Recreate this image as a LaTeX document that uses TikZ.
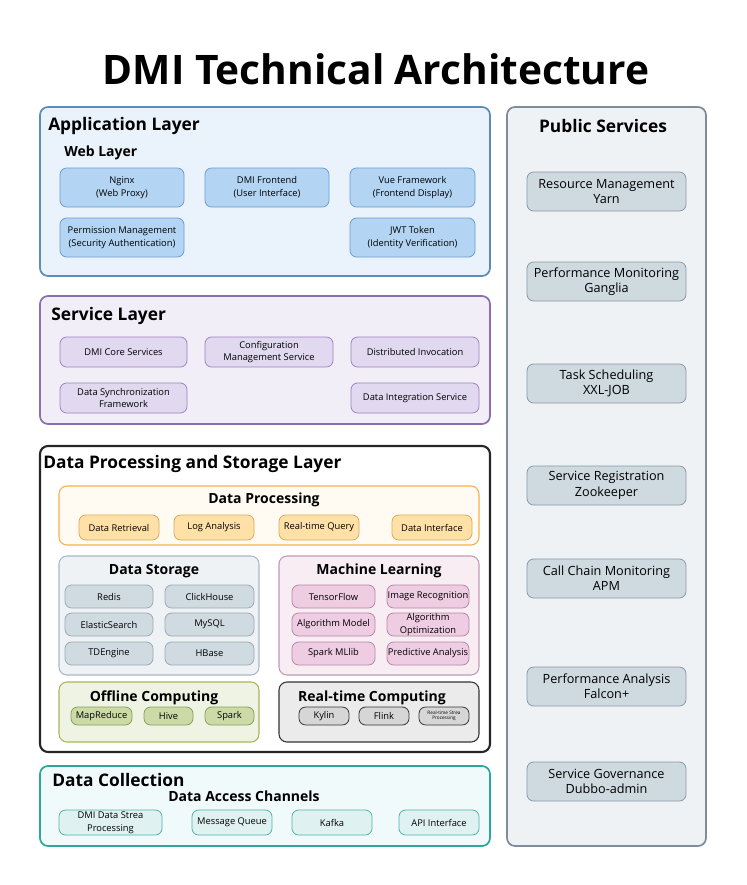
\documentclass[tikz,border=0pt]{standalone}
\usepackage{fontspec}
\setmainfont{Open Sans}
\begin{document}
\begin{tikzpicture}[x=0.75pt,y=-0.75pt,
 lay/.style={draw,rounded corners=6pt,line width=1.3pt},
 bx/.style={draw,rounded corners=5pt,line width=0.6pt,align=center,inner sep=0pt,font=\fontsize{7}{9.5}\selectfont},
 ttl/.style={font=\bfseries\fontsize{13}{15}\selectfont,anchor=west,inner sep=0pt},
 sub/.style={font=\bfseries\fontsize{10.5}{12}\selectfont,inner sep=0pt},
 pub/.style={bx,font=\fontsize{9.5}{11.5}\selectfont,fill=pubf,draw=pubd}]
\definecolor{appf}{HTML}{EAF2FB}\definecolor{appd}{HTML}{5B8DB8}
\definecolor{webf}{HTML}{B3D5F3}\definecolor{webd}{HTML}{6C9BD2}
\definecolor{svf}{HTML}{F1EEF8}\definecolor{svd}{HTML}{8D6FB0}
\definecolor{sbf}{HTML}{E0D9F0}\definecolor{sbd}{HTML}{9D82C0}
\definecolor{dpf}{HTML}{FFFBF3}\definecolor{dpd}{HTML}{F5B04A}
\definecolor{dbf}{HTML}{FFE1A8}\definecolor{dbd}{HTML}{D9A95A}
\definecolor{dsf}{HTML}{EEF2F5}\definecolor{dsd}{HTML}{A8B8C8}
\definecolor{sbx}{HTML}{CFDAE1}\definecolor{sbxd}{HTML}{9AAAB5}
\definecolor{mlf}{HTML}{F8EDF3}\definecolor{mld}{HTML}{C29AB3}
\definecolor{mbf}{HTML}{EECCE2}\definecolor{mbd}{HTML}{B986A8}
\definecolor{off}{HTML}{EEF3E4}\definecolor{ofd}{HTML}{A7B859}
\definecolor{obf}{HTML}{CCDAA8}\definecolor{obd}{HTML}{8B9E55}
\definecolor{rtf}{HTML}{EBEBEB}\definecolor{rbf}{HTML}{D6D6D6}
\definecolor{dcf}{HTML}{F1FAFA}\definecolor{dcd}{HTML}{2BA89A}
\definecolor{cbf}{HTML}{DFF2F1}\definecolor{cbd}{HTML}{4BB5A8}
\definecolor{pubf}{HTML}{CED9E0}\definecolor{pubd}{HTML}{8A99A6}
\definecolor{pbg}{HTML}{EEF2F5}\definecolor{pbd}{HTML}{7F8C99}
\newcommand\B[7]{\node[bx,#2,minimum width={(#5-#3)*0.75pt},minimum height={(#6-#4)*0.75pt}] (#1) at ({(#3+#5)/2},{(#4+#6)/2}) {#7};}
\path[use as bounding box] (0,0) rectangle (746,885);
\node[font=\bfseries\fontsize{30.5}{34}\selectfont] (title) at (376,69) {DMI Technical Architecture};
% Application
\B{app}{lay,fill=appf,draw=appd}{40}{107}{490}{276}{}
\node[ttl] (appt) at (48,126) {Application Layer};
\node[sub,anchor=west] (webt) at (64,153) {Web Layer};
\B{ngx}{fill=webf,draw=webd}{60}{168}{184}{207}{Nginx\\(Web Proxy)}
\B{dfe}{fill=webf,draw=webd}{205}{168}{329}{207}{DMI Frontend\\(User Interface)}
\B{vue}{fill=webf,draw=webd}{350}{168}{475}{207}{Vue Framework\\(Frontend Display)}
\B{perm}{fill=webf,draw=webd}{60}{218}{184}{257}{Permission Management\\(Security Authentication)}
\B{jwt}{fill=webf,draw=webd}{350}{218}{475}{257}{JWT Token\\(Identity Verification)}
% Service
\B{svc}{lay,fill=svf,draw=svd}{40}{296}{490}{424}{}
\node[ttl] (svct) at (51,316) {Service Layer};
\B{core}{fill=sbf,draw=sbd}{60}{337}{187}{367}{DMI Core Services}
\B{conf}{fill=sbf,draw=sbd}{205}{337}{333}{367}{Configuration\\Management Service}
\B{dist}{fill=sbf,draw=sbd}{351}{337}{479}{367}{Distributed Invocation}
\B{sync}{fill=sbf,draw=sbd}{60}{383}{187}{413}{Data Synchronization\\Framework}
\B{integ}{fill=sbf,draw=sbd}{351}{383}{479}{413}{Data Integration Service}
% DPS
\B{dps}{lay,fill=white,draw=black!85,line width=1.6pt}{40}{446}{490}{752}{}
\node[ttl] (dpst) at (43,464) {Data Processing and Storage Layer};
\B{dp}{lay,line width=0.8pt,fill=dpf,draw=dpd}{59}{486}{479}{545}{}
\node[sub] (dpt) at (264,500) {Data Processing};
\B{dr}{fill=dbf,draw=dbd}{79}{515}{159}{540}{Data Retrieval}
\B{la}{fill=dbf,draw=dbd}{174}{515}{254}{540}{Log Analysis}
\B{rq}{fill=dbf,draw=dbd}{279}{515}{359}{540}{Real-time Query}
\B{di}{fill=dbf,draw=dbd}{392}{515}{472}{540}{Data Interface}
\B{ds}{lay,line width=0.8pt,fill=dsf,draw=dsd}{59}{556}{259}{675}{}
\node[sub] (dst) at (154,571) {Data Storage};
\B{redis}{fill=sbx,draw=sbxd}{65}{585}{153}{608}{Redis}
\B{ch}{fill=sbx,draw=sbxd}{165}{585}{254}{608}{ClickHouse}
\B{es}{fill=sbx,draw=sbxd}{65}{613}{153}{636}{ElasticSearch}
\B{my}{fill=sbx,draw=sbxd}{165}{613}{254}{636}{MySQL}
\B{td}{fill=sbx,draw=sbxd}{65}{642}{153}{665}{TDEngine}
\B{hb}{fill=sbx,draw=sbxd}{165}{642}{254}{665}{HBase}
\B{ml}{lay,line width=0.8pt,fill=mlf,draw=mld}{279}{556}{479}{675}{}
\node[sub] (mlt) at (379,571) {Machine Learning};
\B{tf}{fill=mbf,draw=mbd}{292}{585}{375}{608}{TensorFlow}
\B{ir}{fill=mbf,draw=mbd}{387}{585}{469}{608}{Image Recognition}
\B{am}{fill=mbf,draw=mbd}{292}{613}{375}{636}{Algorithm Model}
\B{ao}{fill=mbf,draw=mbd}{387}{613}{469}{636}{Algorithm\\Optimization}
\B{sm}{fill=mbf,draw=mbd}{292}{642}{375}{665}{Spark MLlib}
\B{pa}{fill=mbf,draw=mbd}{387}{642}{469}{665}{Predictive Analysis}
\B{oc}{lay,line width=0.8pt,fill=off,draw=ofd}{59}{682}{259}{742}{}
\node[sub] (oct) at (154,698) {Offline Computing};
\B{mr}{fill=obf,draw=obd}{71}{707}{132}{725}{MapReduce}
\B{hive}{fill=obf,draw=obd}{144}{707}{193}{725}{Hive}
\B{spark}{fill=obf,draw=obd}{205}{707}{254}{725}{Spark}
\B{rc}{lay,line width=0.8pt,fill=rtf,draw=black!80}{279}{682}{479}{742}{}
\node[sub] (rct) at (372,698) {Real-time Computing};
\B{ky}{fill=rbf,draw=black!80}{299}{707}{349}{725}{Kylin}
\B{fl}{fill=rbf,draw=black!80}{359}{707}{409}{725}{Flink}
\B{rs}{fill=rbf,draw=black!80,font=\fontsize{3.5}{4}\selectfont}{419}{707}{469}{725}{Real-time Strea\\Processing}
% Data collection
\B{dc}{lay,fill=dcf,draw=dcd}{40}{766}{490}{846}{}
\node[ttl] (dct) at (52,780) {Data Collection};
\node[sub] (dat) at (244,796) {Data Access Channels};
\B{dds}{fill=cbf,draw=cbd}{59}{810}{162}{835}{DMI Data Strea\\Processing}
\B{mq}{fill=cbf,draw=cbd}{192}{810}{272}{835}{Message Queue}
\B{kf}{fill=cbf,draw=cbd}{292}{810}{372}{835}{Kafka}
\B{api}{fill=cbf,draw=cbd}{399}{810}{479}{835}{API Interface}
% Public
\B{ps}{lay,fill=pbg,draw=pbd}{507}{107}{706}{846}{}
\node[sub,font=\bfseries\fontsize{13}{15}\selectfont] (pst) at (603,126) {Public Services};
\B{p1}{pub}{527}{172}{686}{211}{Resource Management\\Yarn}
\B{p2}{pub}{527}{262}{686}{301}{Performance Monitoring\\Ganglia}
\B{p3}{pub}{527}{364}{686}{403}{Task Scheduling\\XXL-JOB}
\B{p4}{pub}{527}{466}{686}{505}{Service Registration\\Zookeeper}
\B{p5}{pub}{527}{559}{686}{598}{Call Chain Monitoring\\APM}
\B{p6}{pub}{527}{667}{686}{706}{Performance Analysis\\Falcon+}
\B{p7}{pub}{527}{762}{686}{801}{Service Governance\\Dubbo-admin}
\end{tikzpicture}
\end{document}
